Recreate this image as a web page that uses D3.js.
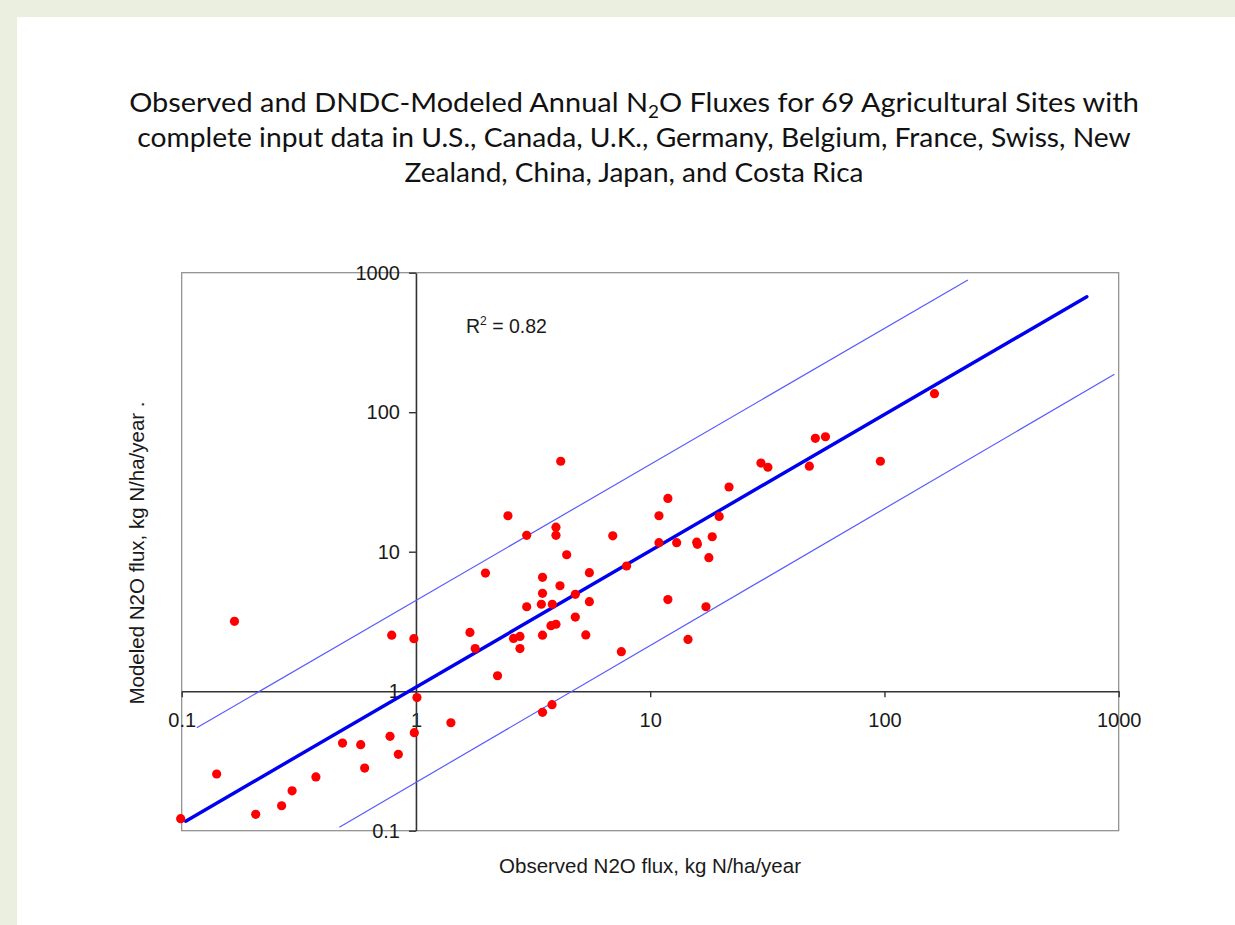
<!DOCTYPE html>
<html>
<head>
<meta charset="utf-8">
<script src="https://cdn.jsdelivr.net/npm/d3@7"></script>
<style>
  body { margin: 0; padding: 0; background: #ebefdf; }
  .tick text { font-family: "Liberation Sans", Arial, sans-serif; font-size: 20px; fill: #1a1a1a; }
  .axislabel { font-family: "Liberation Sans", Arial, sans-serif; font-size: 20.5px; fill: #1a1a1a; }
  .title { font-family: Lato, "Open Sans", sans-serif; font-size: 26px; fill: #111; }
</style>
</head>
<body>
<div id="chart"></div>
<script>
// observed (x) and modeled (y) annual N2O flux, kg N/ha/year
var observed = [0.168,0.788,0.98,1.01,1.41,0.984,0.775,0.486,0.581,0.841,0.604,0.141,0.374,0.296,0.267,0.207,0.099,
  1.70,4.15,2.47,2.97,3.96,3.96,4.40,1.98,3.47,4.12,3.47,4.79,3.43,3.82,2.97,5.50,5.50,6.92,7.93,10.9,11.9,10.9,12.97,
  15.8,15.9,18.4,19.7,21.7,17.8,11.9,17.3,14.5,7.53,4.79,5.31,3.77,3.96,3.47,2.61,2.78,2.78,1.79,2.23,3.81,3.47,
  163.5,50.7,56.0,29.7,31.8,47.8,96.1];
var modeled = [3.17,2.52,2.38,0.90,0.594,0.504,0.475,0.425,0.414,0.353,0.281,0.255,0.243,0.193,0.151,0.131,0.122,
  2.64,44.5,18.1,13.1,15.0,13.1,9.51,7.03,6.55,5.70,5.03,4.95,4.20,4.20,4.03,7.07,4.38,13.0,7.90,18.1,24.1,11.6,11.6,
  11.7,11.3,12.8,17.9,29.1,9.06,4.54,4.03,2.35,1.92,3.40,2.53,2.95,3.02,2.52,2.39,2.47,2.02,2.02,1.29,0.80,0.706,
  135.8,65.0,66.7,43.2,40.3,41.0,44.5];

// regression line and the two bounding lines, as [observed, modeled] end points
var fitLine = [[0.104,0.117],[731,673]];
var upperLine = [[0.116,0.547],[227,887]];
var lowerLine = [[0.471,0.106],[959,187]];

var tickValues = [0.1,1,10,100,1000];
var r2Label = "0.82";

var titleLines = [
  ["Observed and DNDC-Modeled Annual N", "2", "O Fluxes for 69 Agricultural Sites with"],
  ["complete input data in U.S., Canada, U.K., Germany, Belgium, France, Swiss, New"],
  ["Zealand, China, Japan, and Costa Rica"]
];
var titleWidths = [1010, 994, 459];

window.onload = function() {
  var svg = d3.select("#chart").append("svg").attr("width", 1235).attr("height", 925);

  svg.append("rect").attr("width", 1235).attr("height", 925).attr("fill", "#ebefdf");
  svg.append("rect").attr("x", 17).attr("y", 17).attr("width", 1218).attr("height", 908).attr("fill", "white");

  // title
  titleLines.forEach(function(parts, i) {
    var t = svg.append("text").attr("class", "title")
      .attr("text-anchor", "middle")
      .attr("x", 0).attr("y", 0);
    if (parts.length == 3) {
      t.append("tspan").text(parts[0]);
      t.append("tspan").attr("dy", 6).style("font-size", "17px").text(parts[1]);
      t.append("tspan").attr("dy", -6).text(parts[2]);
    } else {
      t.text(parts[0]);
    }
    var w = t.node().getComputedTextLength();
    var sx = titleWidths[i] / w;
    t.attr("transform", "translate(" + 634 + "," + (112 + i * 35) + ") scale(" + sx + ",1)");
  });

  var x = d3.scaleLog().domain([0.1, 1000]).range([181.7, 1118.7]);
  var y = d3.scaleLog().domain([0.1, 1000]).range([830.7, 272.7]);

  var fmt = d3.format("~g");

  // plot border
  svg.append("rect")
    .attr("x", x(0.1)).attr("y", y(1000))
    .attr("width", x(1000) - x(0.1)).attr("height", y(0.1) - y(1000))
    .attr("fill", "none").attr("stroke", "#8a8a8a").attr("stroke-width", 1.2);

  var xAxis = d3.axisBottom(x).tickValues(tickValues).tickFormat(fmt)
    .tickSizeInner(6).tickSizeOuter(0).tickPadding(16);
  var yAxis = d3.axisLeft(y).tickValues(tickValues).tickFormat(fmt)
    .tickSizeInner(7).tickSizeOuter(0).tickPadding(9);

  svg.append("g").attr("class", "x axis")
    .attr("transform", "translate(0," + y(1) + ")").call(xAxis);
  svg.append("g").attr("class", "y axis")
    .attr("transform", "translate(" + x(1) + ",0)").call(yAxis);
  svg.selectAll(".axis path.domain").attr("stroke", "#333").attr("stroke-width", 1.6);
  svg.selectAll(".axis .tick line").attr("stroke", "#333").attr("stroke-width", 1.4);
  svg.selectAll(".axis text").attr("font-family", null).attr("font-size", null);

  var line = d3.line()
    .x(function(d) { return x(d[0]); })
    .y(function(d) { return y(d[1]); });

  svg.append("path").datum(upperLine)
    .attr("fill", "none").attr("stroke", "#5a5aff").attr("stroke-width", 1.2).attr("d", line);
  svg.append("path").datum(lowerLine)
    .attr("fill", "none").attr("stroke", "#5a5aff").attr("stroke-width", 1.2).attr("d", line);
  svg.append("path").datum(fitLine)
    .attr("fill", "none").attr("stroke", "#0000f0").attr("stroke-width", 3.4)
    .attr("stroke-linecap", "round").attr("d", line);

  var pts = observed.map(function(d, i) { return [d, modeled[i]]; });
  svg.append("g").selectAll(".pt").data(pts).enter()
    .append("circle").attr("class", "pt")
    .attr("cx", function(d) { return x(d[0]); })
    .attr("cy", function(d) { return y(d[1]); })
    .attr("r", 4.6)
    .attr("fill", "#ff0000");

  // R squared
  var r2 = svg.append("text").attr("class", "axislabel")
    .attr("x", 466).attr("y", 333).style("font-size", "19.5px");
  r2.append("tspan").text("R");
  r2.append("tspan").attr("dy", -8).style("font-size", "12px").text("2");
  r2.append("tspan").attr("dy", 8).text(" = " + r2Label);

  svg.append("text").attr("class", "axislabel")
    .attr("text-anchor", "middle")
    .attr("x", 650).attr("y", 873)
    .text("Observed N2O flux, kg N/ha/year");

  svg.append("text").attr("class", "axislabel")
    .attr("text-anchor", "middle")
    .attr("transform", "translate(" + 144 + "," + 553 + ") rotate(-90)")
    .text("Modeled N2O flux, kg N/ha/year .");
};
</script>
</body>
</html>
